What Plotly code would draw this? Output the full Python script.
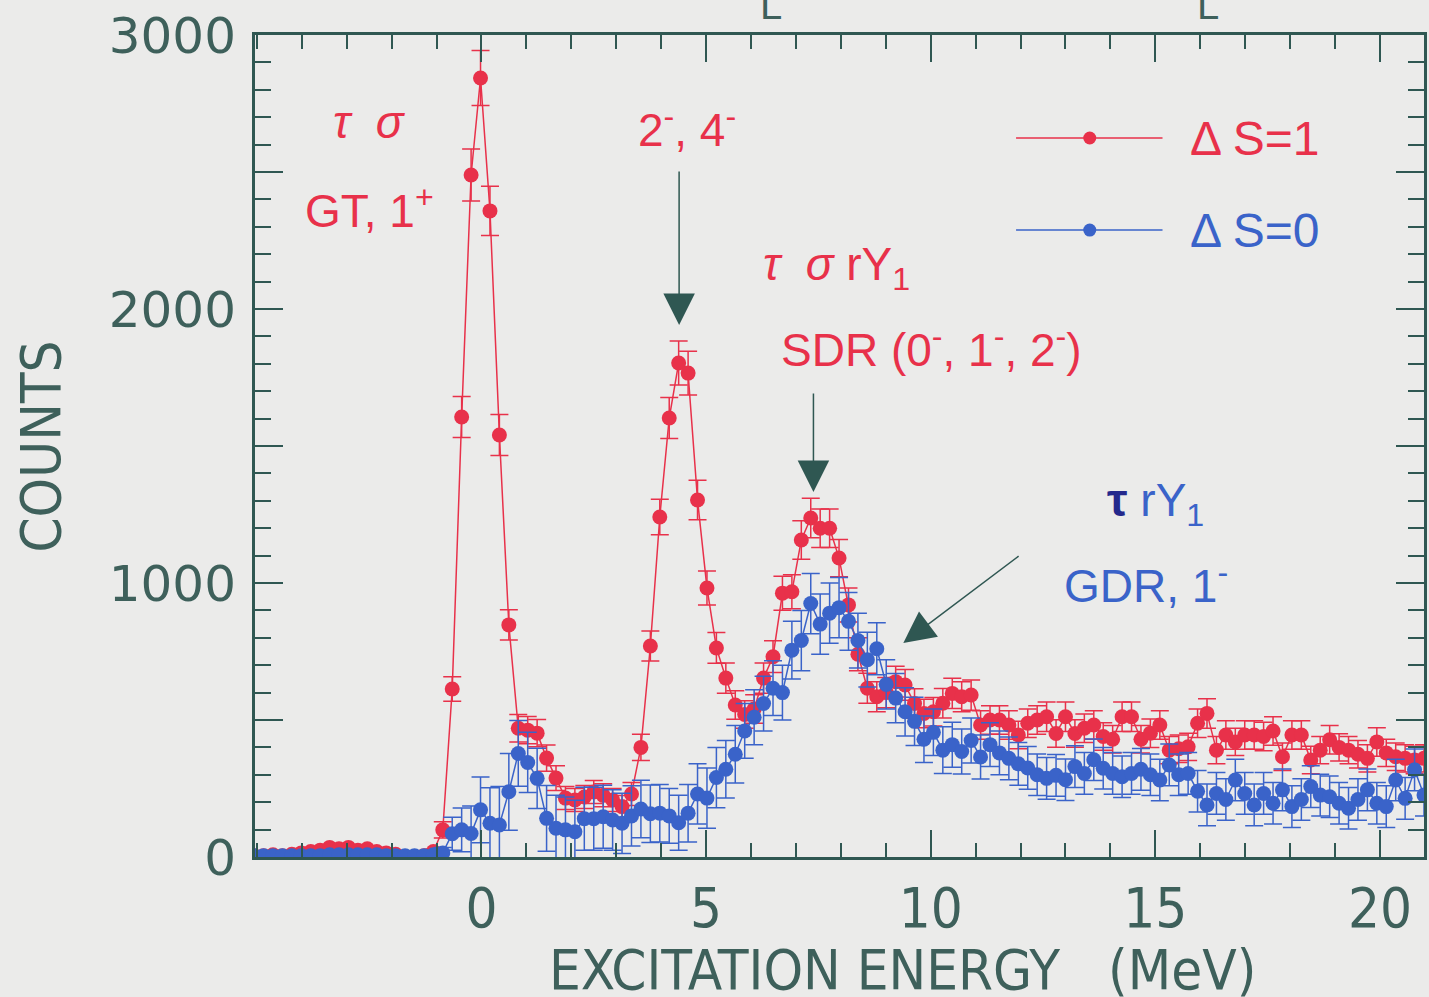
import plotly.graph_objects as go

# Excitation energy bin centres (MeV)
energy = [-5.06, -4.85, -4.64, -4.43, -4.22, -4.01, -3.80, -3.59, -3.38, -3.17,
          -2.96, -2.75, -2.54, -2.33, -2.12, -1.91, -1.70, -1.49, -1.28, -1.07,
          -0.86, -0.65, -0.44, -0.23, -0.02, 0.19, 0.40, 0.61, 0.82, 1.03,
          1.24, 1.45, 1.66, 1.87, 2.08, 2.29, 2.50, 2.71, 2.92, 3.13,
          3.34, 3.55, 3.76, 3.97, 4.18, 4.39, 4.60, 4.81, 5.02, 5.23,
          5.44, 5.65, 5.86, 6.07, 6.28, 6.49, 6.70, 6.91, 7.12, 7.33,
          7.54, 7.75, 7.96, 8.17, 8.38, 8.59, 8.80, 9.01, 9.22, 9.43,
          9.64, 9.85, 10.06, 10.27, 10.48, 10.69, 10.90, 11.11, 11.32, 11.53,
          11.74, 11.95, 12.16, 12.37, 12.58, 12.79, 13.00, 13.21, 13.42, 13.63,
          13.84, 14.05, 14.26, 14.47, 14.68, 14.89, 15.10, 15.31, 15.52, 15.73,
          15.94, 16.15, 16.36, 16.57, 16.78, 16.99, 17.20, 17.41, 17.62, 17.83,
          18.04, 18.25, 18.46, 18.67, 18.88, 19.09, 19.30, 19.51, 19.72, 19.93,
          20.14, 20.35, 20.56, 20.77, 20.98]

# Delta S = 1 counts
counts_s1 = [5, 5, 8, 5, 10, 15, 20, 25, 35, 30,
             35, 25, 30, 20, 15, 10, 0, 0, 5, 20,
             99, 613, 1606, 2489, 2843, 2358, 1540, 847, 470, 463,
             452, 361, 288, 215, 208, 219, 237, 225, 208, 184,
             230, 400, 770, 1241, 1602, 1803, 1766, 1303, 982, 763,
             653, 555, 520, 540, 653, 731, 963, 968, 1157, 1237,
             1200, 1200, 1091, 920, 740, 616, 585, 600, 640, 628,
             560, 524, 530, 561, 597, 585, 591, 482, 500, 500,
             482, 445, 488, 500, 512, 451, 512, 451, 470, 482,
             440, 430, 512, 512, 430, 452, 482, 390, 395, 402,
             488, 524, 390, 445, 420, 445, 445, 440, 460, 366,
             445, 445, 354, 390, 428, 400, 390, 375, 360, 420,
             380, 366, 360, 354, 360]
err_s1 = [8, 8, 8, 8, 8, 8, 8, 8, 8, 8,
          8, 8, 8, 8, 8, 8, 8, 8, 8, 8,
          30, 45, 75, 95, 100, 90, 75, 55, 50, 50,
          50, 48, 45, 42, 42, 42, 42, 42, 42, 40,
          42, 48, 55, 65, 75, 80, 80, 72, 62, 56,
          55, 52, 50, 52, 55, 58, 62, 62, 70, 72,
          70, 70, 68, 62, 60, 55, 55, 55, 56, 56,
          54, 52, 52, 54, 55, 55, 55, 52, 52, 52,
          52, 50, 52, 52, 54, 50, 54, 50, 52, 52,
          50, 50, 54, 54, 50, 52, 52, 50, 50, 50,
          52, 54, 50, 52, 50, 52, 52, 52, 52, 50,
          52, 52, 50, 50, 52, 50, 50, 50, 50, 52,
          50, 50, 50, 50, 50]

# Delta S = 0 counts
counts_s0 = [5, 5, 5, 5, 5, 5, 5, 5, 8, 8,
             8, 8, 8, 8, 5, 5, 5, 5, 5, 8,
             15, 85, 99, 86, 172, 123, 117, 238, 378, 345,
             287, 141, 105, 99, 92, 140, 140, 147, 135, 123,
             150, 175, 158, 160, 150, 125, 160, 230, 215, 290,
             320, 375, 460, 510, 560, 616, 600, 755, 790, 925,
             850, 890, 910, 860, 790, 720, 760, 630, 580, 530,
             495, 430, 455, 390, 410, 385, 425, 365, 410, 380,
             360, 340, 325, 300, 287, 298, 282, 330, 305, 355,
             324, 305, 293, 305, 320, 300, 281, 336, 300, 305,
             240, 190, 232, 210, 281, 232, 190, 232, 196, 245,
             184, 210, 257, 226, 220, 196, 178, 210, 245, 196,
             184, 281, 214, 318, 226]
err_s0 = [5, 5, 5, 5, 5, 5, 5, 5, 5, 5,
          5, 5, 5, 5, 5, 5, 5, 5, 5, 5,
          20, 60, 80, 100, 120, 130, 140, 140, 120, 110,
          110, 120, 120, 120, 115, 115, 115, 115, 110, 110,
          110, 105, 105, 105, 100, 100, 105, 110, 110, 110,
          105, 105, 100, 100, 100, 100, 100, 105, 110, 110,
          110, 110, 110, 105, 100, 100, 95, 90, 90, 88,
          88, 85, 85, 85, 82, 82, 82, 80, 80, 80,
          78, 78, 78, 76, 76, 76, 76, 76, 76, 76,
          76, 76, 76, 76, 76, 76, 76, 76, 76, 76,
          76, 76, 76, 76, 76, 76, 76, 76, 76, 76,
          76, 76, 76, 76, 76, 76, 76, 76, 76, 76,
          76, 76, 76, 76, 76]

y_tickvals = [0, 500, 1000, 1500, 2000, 2500, 3000]
y_ticktext = ["0", "", "1000", "", "2000", "", "3000"]
x_tickvals = [0, 5, 10, 15, 20]
x_ticktext = ["0", "5", "10", "15", "20"]

RED = "#e8314a"
BLUE = "#3a63c9"
NAVY = "#24288c"
AX = "#2f5752"
TXT = "#3e605b"
BG = "#ebebea"
NARROW = "Liberation Sans Narrow, DejaVu Sans Condensed, Arial Narrow, sans-serif"
SANS = "Liberation Sans, Arial, Helvetica, sans-serif"

fig = go.Figure()
fig.add_trace(go.Scatter(
    x=energy, y=counts_s1, mode="lines+markers", name="ΔS=1",
    line=dict(color=RED, width=1.5),
    marker=dict(color=RED, size=15),
    error_y=dict(type="data", array=err_s1, color=RED, thickness=1.5, width=9),
    showlegend=False))
fig.add_trace(go.Scatter(
    x=energy, y=counts_s0, mode="lines+markers", name="ΔS=0",
    line=dict(color=BLUE, width=1.5),
    marker=dict(color=BLUE, size=15),
    error_y=dict(type="data", array=err_s0, color=BLUE, thickness=1.5, width=9),
    showlegend=False))

axis_common = dict(showline=True, linewidth=3, linecolor=AX, mirror="allticks",
                   ticks="inside", tickwidth=2, tickcolor=AX, showgrid=False,
                   zeroline=False)

fig.update_xaxes(range=[-5.04, 20.98], tickvals=x_tickvals, ticktext=x_ticktext,
                 ticklen=27, tickfont=dict(family=NARROW, size=56, color=TXT),
                 ticklabelstandoff=0,
                 minor=dict(dtick=1, tick0=0, ticks="inside", ticklen=14,
                            tickwidth=2, tickcolor=AX, showgrid=False),
                 **axis_common)
fig.update_yaxes(range=[0, 3000], tickvals=y_tickvals, ticktext=y_ticktext,
                 ticklen=28, tickfont=dict(family="DejaVu Sans, sans-serif", size=50, color=TXT),
                 ticklabelstandoff=6,
                 minor=dict(dtick=100, tick0=0, ticks="inside", ticklen=16,
                            tickwidth=2, tickcolor=AX, showgrid=False),
                 **axis_common)

ann = []
# axis titles
ann.append(dict(text="EXCITATION ENERGY   (MeV)", xref="paper", yref="paper",
                x=0.5536, y=-0.14, yshift=3, xanchor="center", yanchor="middle",
                showarrow=False, font=dict(family=NARROW, size=56, color=TXT)))
ann.append(dict(text="COUNTS", xref="paper", yref="paper", x=-0.1834, y=0.4988,
                xanchor="center", yanchor="middle", textangle=-90, showarrow=False,
                font=dict(family=NARROW, size=56, color=TXT)))
# cut-off letters at the top edge (remnants of a caption above the frame)
for xp in [0.441, 0.815]:
    ann.append(dict(text="L", xref="paper", yref="paper", x=xp, y=1.0, yshift=6,
                    xanchor="center", yanchor="bottom",
                    showarrow=False, font=dict(family=SANS, size=40, color=TXT)))

# peak labels
ann += [
    dict(text="<i>τ  σ</i>", x=-2.49, y=2682, showarrow=False,
         font=dict(family=SANS, size=46, color=RED)),
    dict(text="GT, 1<sup>+</sup>", x=-2.49, y=2369, showarrow=False,
         font=dict(family=SANS, size=46, color=RED)),
    dict(text="2<sup>-</sup>, 4<sup>-</sup>", x=4.57, y=2664, showarrow=False,
         font=dict(family=SANS, size=46, color=RED)),
    dict(text="<i>τ  σ</i> rY<sub>1</sub>", x=7.9, y=2150, showarrow=False,
         font=dict(family=SANS, size=46, color=RED)),
    dict(text="SDR (0<sup>-</sup>, 1<sup>-</sup>, 2<sup>-</sup>)", x=10.01, y=1861,
         showarrow=False, font=dict(family=SANS, size=46, color=RED)),
    dict(text="<b><span style='color:%s'>τ</span></b> rY<sub>1</sub>" % NAVY,
         x=15.0, y=1290, showarrow=False,
         font=dict(family=SANS, size=46, color=BLUE)),
    dict(text="GDR, 1<sup>-</sup>", x=14.8, y=1000, showarrow=False,
         font=dict(family=SANS, size=46, color=BLUE)),
]
# arrows
for tip, tail in [((4.40, 1942), (4.40, 2507)),
                  ((7.39, 1332), (7.39, 1697)),
                  ((9.39, 781), (11.99, 1102))]:
    ann.append(dict(x=tip[0], y=tip[1], ax=tail[0], ay=tail[1], axref="x", ayref="y",
                    text="", showarrow=True, arrowhead=2, arrowsize=4.2,
                    arrowwidth=1.5, arrowcolor=AX, standoff=0, startstandoff=0))

# custom legend
shapes = []
for yy, col, label in [(2624, RED, "Δ S=1"), (2288, BLUE, "Δ S=0")]:
    shapes.append(dict(type="line", x0=11.9, x1=15.16, y0=yy, y1=yy,
                       line=dict(color=col, width=1.5)))
    shapes.append(dict(type="circle", xsizemode="pixel", ysizemode="pixel",
                       xanchor=13.54, yanchor=yy, x0=-6.5, x1=6.5, y0=-6.5, y1=6.5,
                       fillcolor=col, line=dict(width=0)))
    ann.append(dict(text=label, x=15.72, y=yy, xanchor="left", showarrow=False,
                    font=dict(family=SANS, size=48, color=col)))

fig.update_layout(width=1429, height=997, margin=dict(l=255, r=2, t=35, b=140),
                  paper_bgcolor=BG, plot_bgcolor=BG, annotations=ann, shapes=shapes)

fig.write_html("out.html")
